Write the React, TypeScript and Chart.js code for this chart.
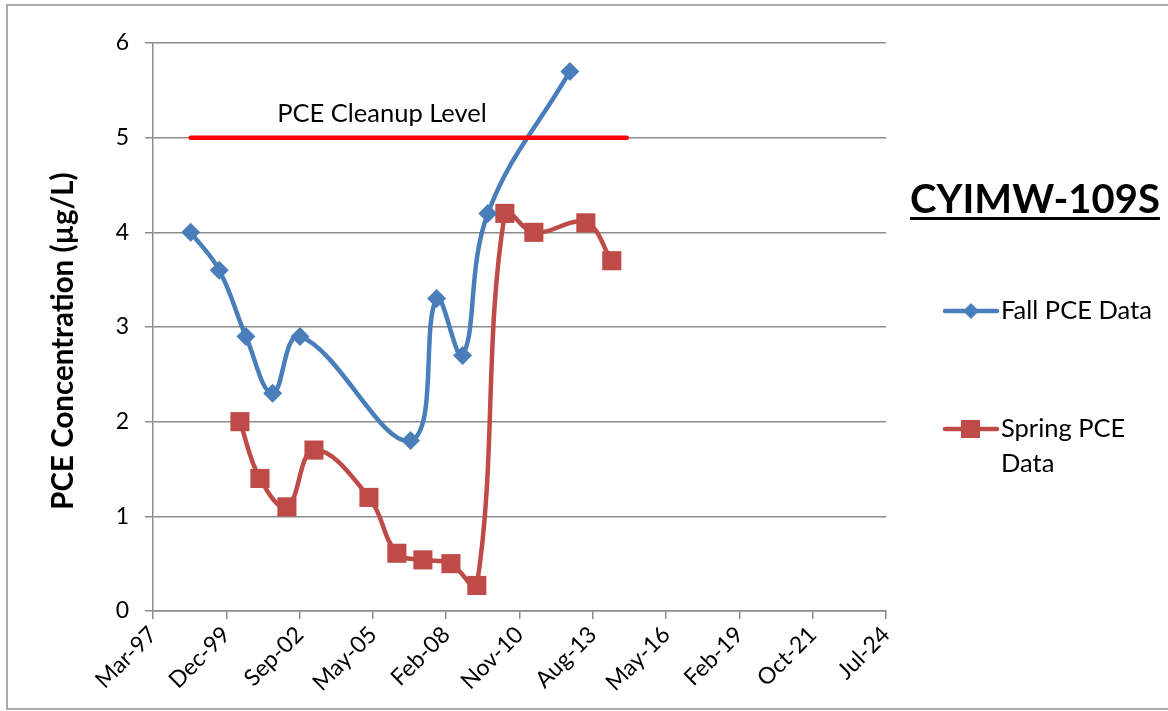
import React, { useEffect, useRef } from "react";
import { Chart, registerables } from "chart.js";

Chart.register(...registerables);

// ---- Data ----
const FALL_DATES = [
  "1998-08-07", "1999-09-01", "2000-08-30", "2001-08-29", "2002-09-06",
  "2006-10-24", "2007-10-14", "2008-10-02", "2009-09-12", "2012-10-05",
];
const FALL_VALUES = [4.0, 3.6, 2.9, 2.3, 2.9, 1.8, 3.3, 2.7, 4.2, 5.7];

const SPRING_DATES = [
  "2000-06-09", "2001-03-09", "2002-03-12", "2003-03-16", "2005-04-04",
  "2006-04-20", "2007-04-10", "2008-04-26", "2009-04-15", "2010-05-02",
  "2011-06-02", "2013-05-11", "2014-04-30",
];
const SPRING_VALUES = [2.0, 1.4, 1.1, 1.7, 1.2, 0.61, 0.54, 0.5, 0.27, 4.2, 4.0, 4.1, 3.7];

const CLEANUP_DATES = ["1998-08-07", "2014-11-21"];
const CLEANUP_VALUES = [5, 5];
const CLEANUP_LABEL = "PCE Cleanup Level";

// x-axis ticks (Excel date serials, 1000-day major unit)
const TICK_VALUES = [35500, 36500, 37500, 38500, 39500, 40500, 41500, 42500, 43500, 44500, 45500];
const TICK_LABELS = ["Mar-97", "Dec-99", "Sep-02", "May-05", "Feb-08", "Nov-10", "Aug-13", "May-16", "Feb-19", "Oct-21", "Jul-24"];
const Y_TICKS = [0, 1, 2, 3, 4, 5, 6];

const TITLE = "CYIMW-109S";
const Y_TITLE = "PCE Concentration (µg/L)";
const FALL_LABEL = "Fall PCE Data";
const SPRING_LABEL_LINES = ["Spring PCE", "Data"];

const toSerial = (s: string) => {
  const [y, m, d] = s.split("-").map(Number);
  return Date.UTC(y, m - 1, d) / 86400000 + 25569;
};

const BLUE = "#4A7EBB";
const RED = "#BE4B48";
const FONT = "Lato, Carlito, 'Open Sans', sans-serif";

export default function App() {
  const ref = useRef<HTMLCanvasElement | null>(null);

  useEffect(() => {
    const canvas = ref.current;
    if (!canvas) return;

    const decor = {
      id: "decor",
      afterDraw(chart: any) {
        const ctx = chart.ctx as CanvasRenderingContext2D;
        const xs = chart.scales.x;
        const ys = chart.scales.y;
        ctx.save();
        // outer border
        ctx.strokeStyle = "#8f8f8f";
        ctx.lineWidth = 1.5;
        ctx.strokeRect(7, 5, 1200, 704);

        // cleanup label
        ctx.fillStyle = "#000";
        ctx.font = `25.5px ${FONT}`;
        ctx.textAlign = "center";
        ctx.textBaseline = "middle";
        ctx.fillText(CLEANUP_LABEL, xs.getPixelForValue(38624), ys.getPixelForValue(5.25));

        // y title
        ctx.save();
        ctx.translate(63, 341);
        ctx.rotate(-Math.PI / 2);
        ctx.font = `bold 29.5px ${FONT}`;
        ctx.textAlign = "center";
        ctx.textBaseline = "middle";
        ctx.fillText(Y_TITLE, 0, 0);
        ctx.restore();

        // title
        ctx.font = `bold 40px ${FONT}`;
        ctx.textAlign = "center";
        ctx.textBaseline = "alphabetic";
        const tw = ctx.measureText(TITLE).width;
        const tcx = 1035;
        ctx.fillText(TITLE, tcx, 213);
        ctx.fillRect(tcx - tw / 2, 217, tw, 3);

        // legend
        const drawEntry = (y: number, color: string, style: string, lines: string[]) => {
          ctx.strokeStyle = color;
          ctx.lineWidth = 4.5;
          ctx.lineCap = "round";
          ctx.beginPath();
          ctx.moveTo(945, y);
          ctx.lineTo(997, y);
          ctx.stroke();
          ctx.fillStyle = color;
          ctx.beginPath();
          if (style === "diamond") {
            ctx.moveTo(971, y - 8);
            ctx.lineTo(979, y);
            ctx.lineTo(971, y + 8);
            ctx.lineTo(963, y);
            ctx.closePath();
          } else {
            ctx.rect(961, y - 9, 19, 18);
          }
          ctx.fill();
          ctx.fillStyle = "#000";
          ctx.font = `25.5px ${FONT}`;
          ctx.textAlign = "left";
          ctx.textBaseline = "middle";
          lines.forEach((t, i) => ctx.fillText(t, 1001, y + i * 35));
        };
        drawEntry(311, BLUE, "diamond", [FALL_LABEL]);
        drawEntry(429, RED, "square", SPRING_LABEL_LINES);
        ctx.restore();
      },
    };

    const chart = new Chart(canvas, {
      type: "line",
      data: {
        datasets: [
          {
            label: "PCE Cleanup Level",
            data: CLEANUP_DATES.map((d, i) => ({ x: toSerial(d), y: CLEANUP_VALUES[i] })),
            borderColor: "#FF0000",
            borderWidth: 4.5,
            pointRadius: 0,
            tension: 0,
            borderCapStyle: "round",
          },
          {
            label: FALL_LABEL,
            data: FALL_DATES.map((d, i) => ({ x: toSerial(d), y: FALL_VALUES[i] })),
            borderColor: BLUE,
            backgroundColor: BLUE,
            borderWidth: 4.5,
            pointStyle: "rectRot",
            pointRadius: 9.5,
            pointBorderWidth: 0,
            tension: 0.4,
          },
          {
            label: "Spring PCE Data",
            data: SPRING_DATES.map((d, i) => ({ x: toSerial(d), y: SPRING_VALUES[i] })),
            borderColor: RED,
            backgroundColor: RED,
            borderWidth: 4.5,
            pointStyle: "rect",
            pointRadius: 13.5,
            pointBorderWidth: 0,
            tension: 0.4,
          },
        ],
      },
      options: {
        animation: false,
        responsive: false,
        maintainAspectRatio: false,
        layout: { padding: { left: 0, top: 43, right: 282, bottom: 0 } },
        plugins: { legend: { display: false }, tooltip: { enabled: false } },
        scales: {
          x: {
            type: "linear",
            min: TICK_VALUES[0],
            max: TICK_VALUES[TICK_VALUES.length - 1],
            afterBuildTicks: (scale: any) => {
              scale.ticks = TICK_VALUES.map((v) => ({ value: v }));
            },
            afterFit: (scale: any) => {
              scale.height = 100;
            },
            grid: { display: true, drawOnChartArea: false, color: "#8c8c8c", lineWidth: 1.5, tickLength: 8 },
            border: { color: "#8c8c8c", width: 1.5 },
            ticks: {
              autoSkip: false,
              maxRotation: 45,
              minRotation: 45,
              padding: 2,
              color: "#000",
              font: { family: FONT, size: 23 },
              callback: (v: any) => {
                const i = TICK_VALUES.indexOf(Number(v));
                return i >= 0 ? TICK_LABELS[i] : "";
              },
            },
          },
          y: {
            min: 0,
            max: 6,
            afterBuildTicks: (scale: any) => {
              scale.ticks = Y_TICKS.map((v) => ({ value: v }));
            },
            afterFit: (scale: any) => {
              scale.width = 153;
            },
            grid: { color: "#8c8c8c", lineWidth: 1.5, tickLength: 8 },
            border: { color: "#8c8c8c", width: 1.5 },
            ticks: {
              padding: 16,
              color: "#000",
              font: { family: FONT, size: 23 },
            },
          },
        },
      },
      plugins: [decor],
    } as any);

    return () => chart.destroy();
  }, []);

  return (
    <div style={{ position: "fixed", left: 0, top: 0, width: 1168, height: 711, background: "#fff" }}>
      <canvas ref={ref} width={1168} height={711} style={{ width: 1168, height: 711, display: "block" }} />
    </div>
  );
}
